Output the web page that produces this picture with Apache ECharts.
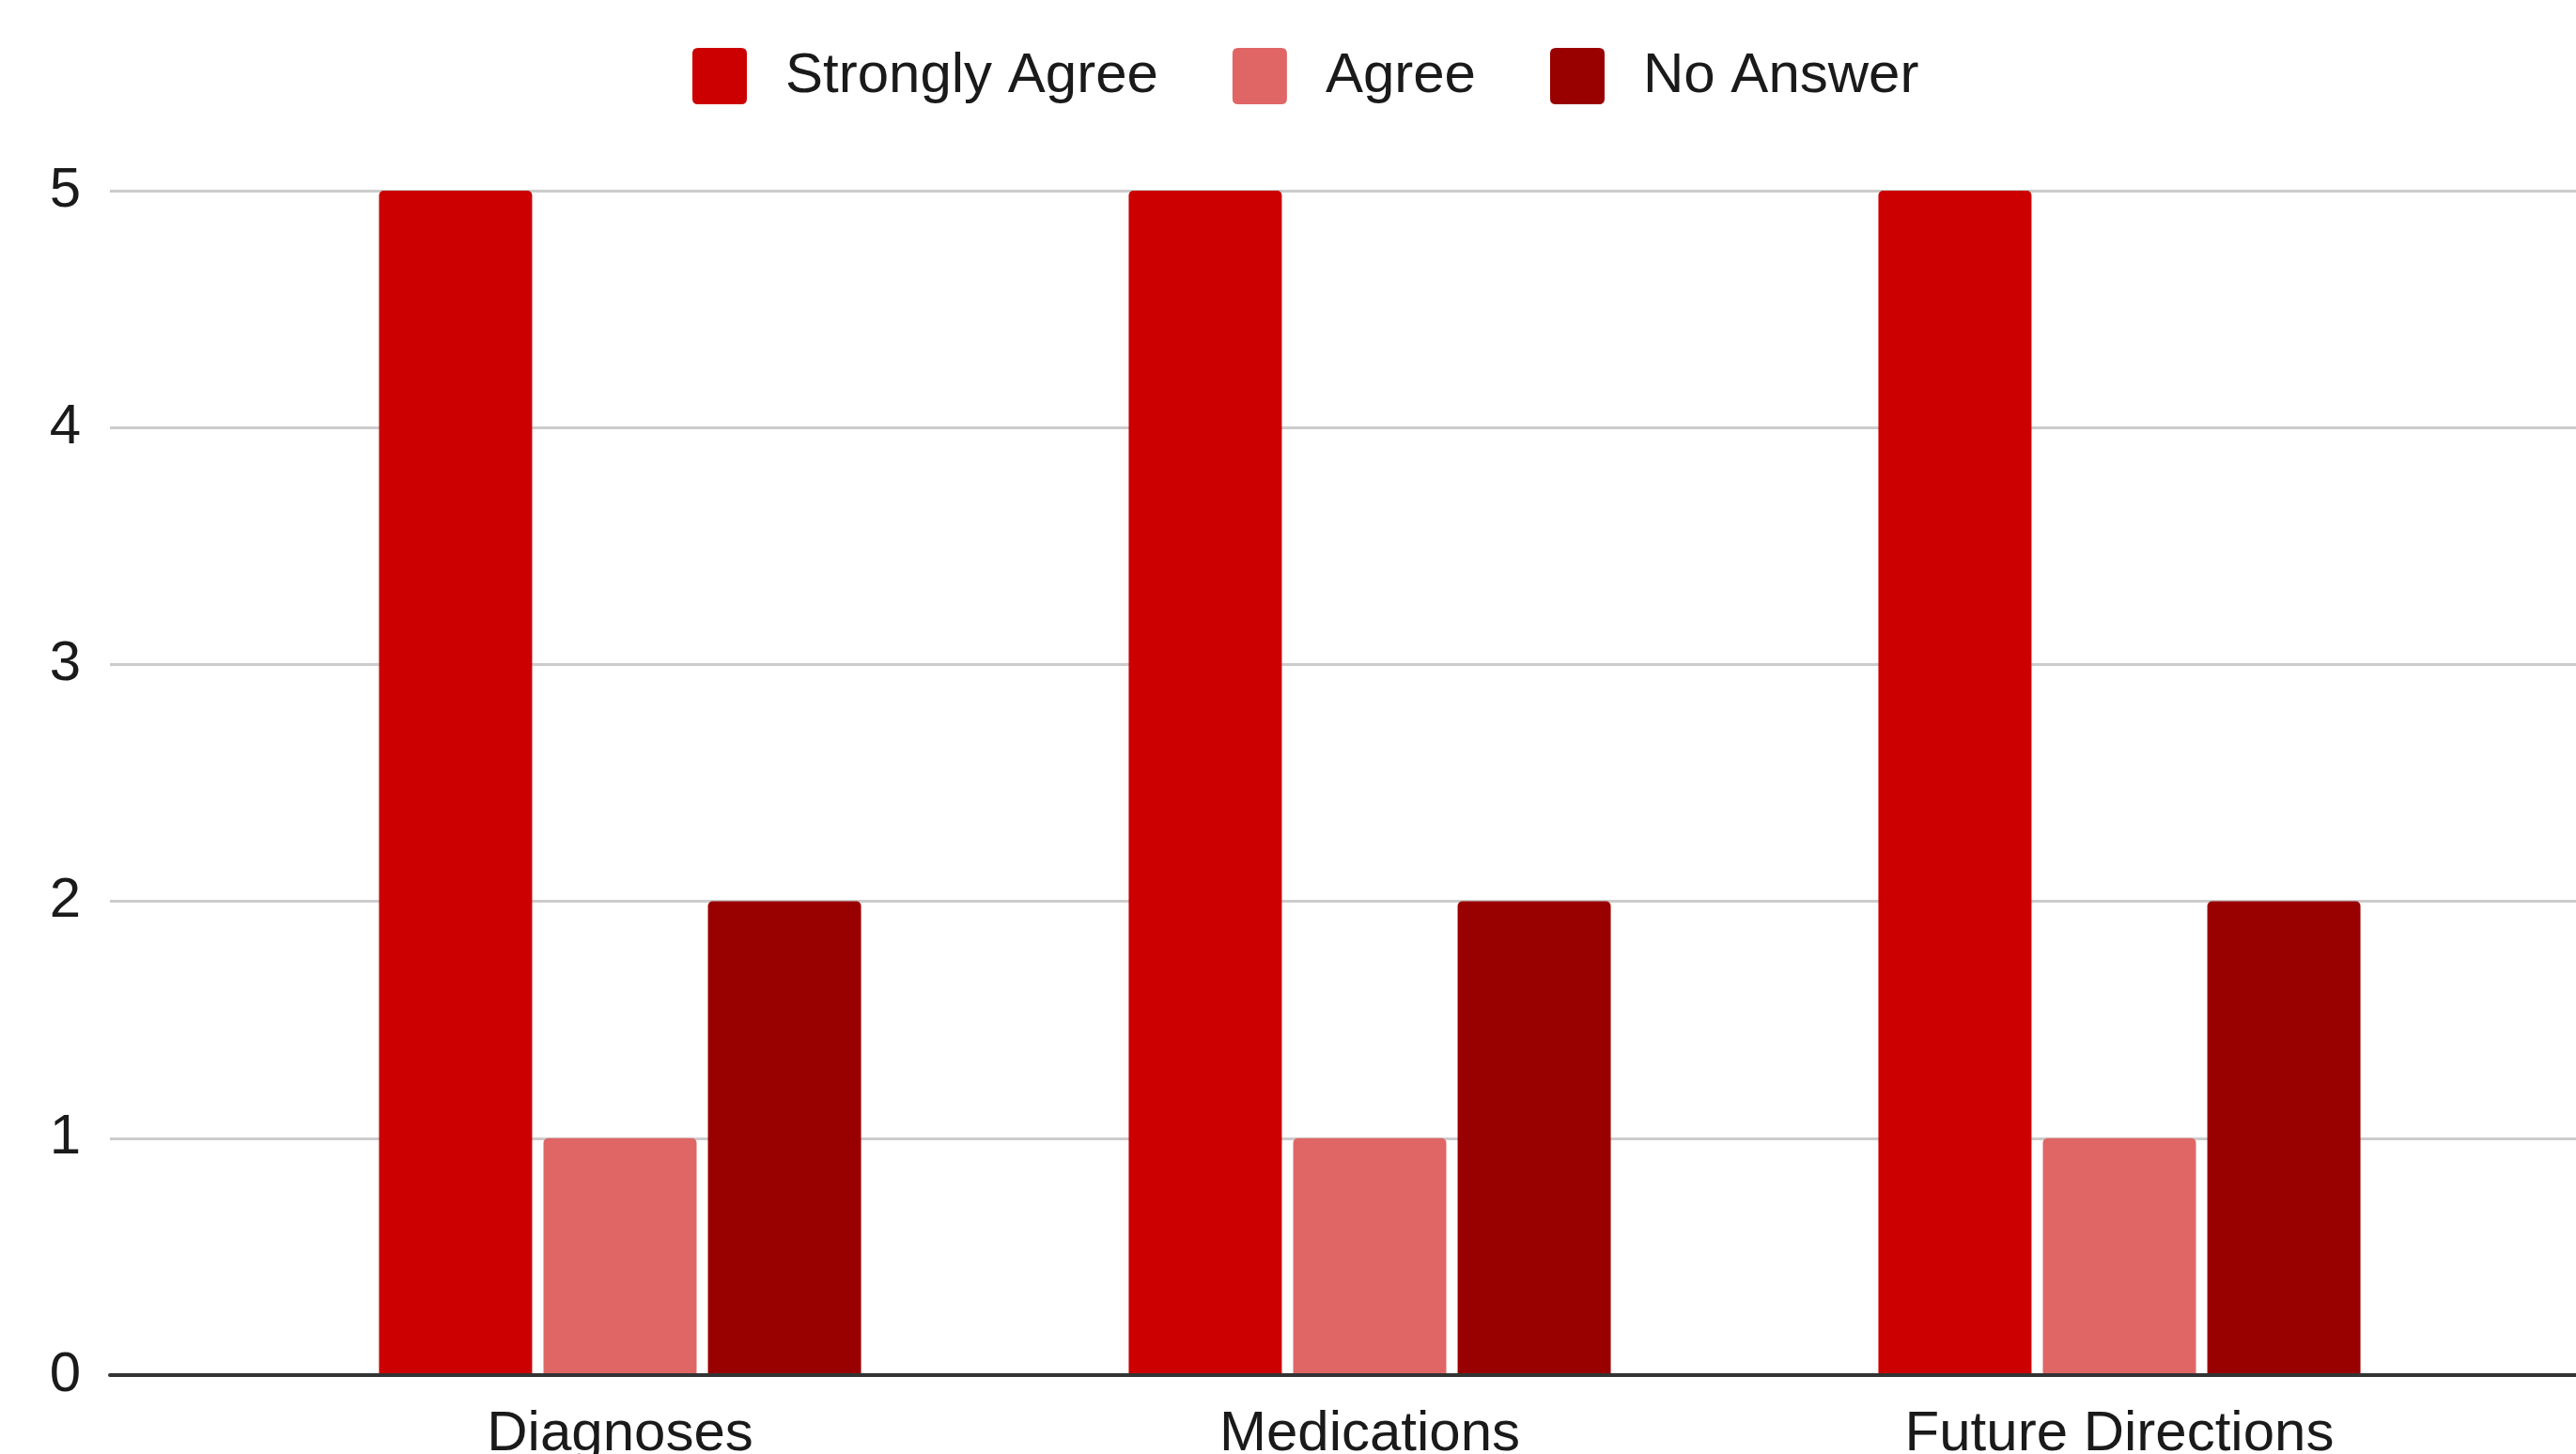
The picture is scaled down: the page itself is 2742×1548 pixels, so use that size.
<!DOCTYPE html>
<html>
<head>
<meta charset="utf-8">
<title>Survey responses</title>
<script src="https://cdn.jsdelivr.net/npm/echarts@6/dist/echarts.min.js"></script>
<style>
  html, body { margin: 0; padding: 0; background: #ffffff; }
  #chart { width: 2742px; height: 1548px; }
</style>
</head>
<body>
<div id="chart"></div>
<script>
// Survey topics and response counts
const categories = ['Diagnoses', 'Medications', 'Future Directions'];
const stronglyAgree = [5, 5, 5];
const agree = [1, 1, 1];
const noAnswer = [2, 2, 2];

const seriesNames = ['Strongly Agree', 'Agree', 'No Answer'];
const seriesColors = ['#cc0000', '#e06666', '#990000'];

const FONT = '"Liberation Sans", Arial, Helvetica, sans-serif';
// legend swatch: square with slightly rounded corners
const SWATCH = 'path://M6,0 H52 Q58,0 58,6 V54 Q58,60 52,60 H6 Q0,60 0,54 V6 Q0,0 6,0 Z';

const chart = echarts.init(document.getElementById('chart'), null, { renderer: 'canvas' });

function barSeries(name, values, color) {
  return {
    name: name,
    type: 'bar',
    xAxisIndex: 1,
    yAxisIndex: 1,
    data: values,
    barWidth: 163,
    barGap: '7.4%',
    itemStyle: { color: color, borderRadius: [5, 5, 0, 0] },
    emphasis: { disabled: true }
  };
}

chart.setOption({
  animation: false,
  textStyle: { fontFamily: FONT },
  color: seriesColors,
  legend: {
    left: 737,
    top: 51,
    padding: 0,
    itemWidth: 58,
    itemHeight: 60,
    itemGap: 79,
    icon: SWATCH,
    selectedMode: false,
    textStyle: { fontSize: 60, color: '#1a1a1a', fontFamily: FONT, padding: [0, 0, 0, 36] },
    data: seriesNames
  },
  grid: [
    // full-width grid carrying the value axis, gridlines and baseline
    { left: 117, right: 0, top: 203, bottom: 84, outerBoundsMode: 'none', containLabel: false },
    // inner grid holding the category bands and bars
    { left: 261, right: 87, top: 203, bottom: 84, outerBoundsMode: 'none', containLabel: false }
  ],
  xAxis: [
    {
      gridIndex: 0,
      type: 'value',
      min: 0,
      max: 1,
      z: 5,
      axisLine: { show: true, lineStyle: { color: '#333333', width: 4 } },
      axisTick: { show: false },
      axisLabel: { show: false },
      splitLine: { show: false }
    },
    {
      gridIndex: 1,
      type: 'category',
      data: categories,
      axisLine: { show: false },
      axisTick: { show: false },
      axisLabel: { fontSize: 60, color: '#1a1a1a', margin: 33, fontFamily: FONT }
    }
  ],
  yAxis: [
    {
      gridIndex: 0,
      type: 'value',
      min: 0,
      max: 5,
      interval: 1,
      axisLine: { show: false },
      axisTick: { show: false },
      axisLabel: { fontSize: 60, color: '#1a1a1a', margin: 31, fontFamily: FONT },
      splitLine: { show: true, lineStyle: { color: '#cccccc', width: 3 } }
    },
    {
      gridIndex: 1,
      type: 'value',
      min: 0,
      max: 5,
      interval: 1,
      show: false
    }
  ],
  series: [
    barSeries(seriesNames[0], stronglyAgree, seriesColors[0]),
    barSeries(seriesNames[1], agree, seriesColors[1]),
    barSeries(seriesNames[2], noAnswer, seriesColors[2])
  ]
});
</script>
</body>
</html>
